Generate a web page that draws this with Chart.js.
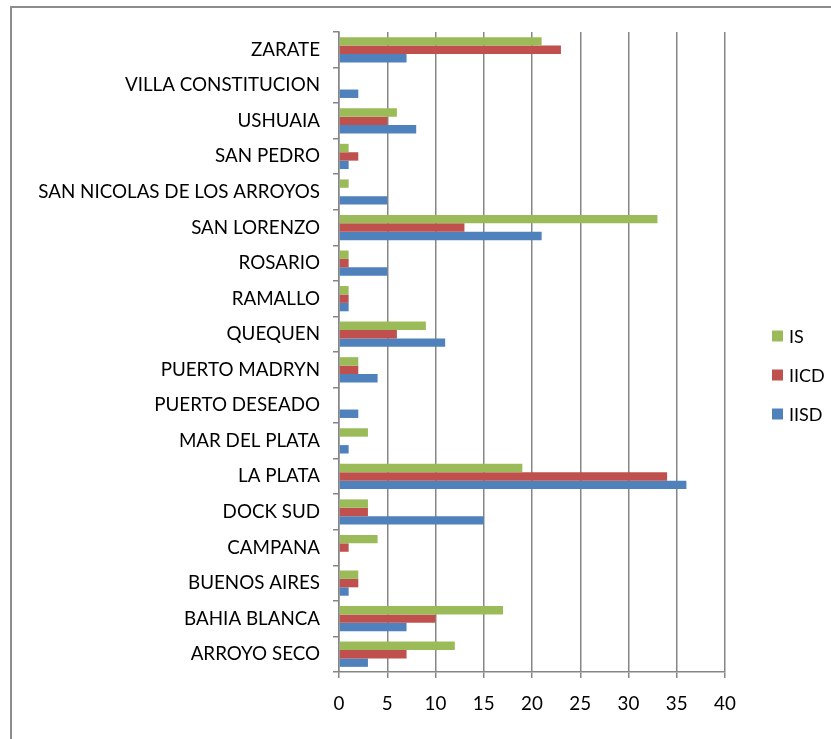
<!DOCTYPE html>
<html>
<head>
<meta charset="utf-8">
<script src="https://cdn.jsdelivr.net/npm/chart.js@4"></script>
<style>
    html, body { margin: 0; padding: 0; background: #ffffff; }
    #wrap { position: relative; width: 831px; height: 739px; overflow: hidden; }
    #marco { position: absolute; left: 10px; top: 6px; width: 840px; height: 760px;
             border-top: 2px solid #8c8c8c; border-left: 2px solid #8c8c8c; }
    #grafica { position: absolute; left: 0; top: 0; }
</style>
</head>
<body>
<div id="wrap">
    <div id="marco"></div>
    <canvas id="grafica" width="831" height="739"></canvas>
</div>
<script>
var puertos = ['ZARATE', 'VILLA CONSTITUCION', 'USHUAIA', 'SAN PEDRO', 'SAN NICOLAS DE LOS ARROYOS',
    'SAN LORENZO', 'ROSARIO', 'RAMALLO', 'QUEQUEN', 'PUERTO MADRYN', 'PUERTO DESEADO',
    'MAR DEL PLATA', 'LA PLATA', 'DOCK SUD', 'CAMPANA', 'BUENOS AIRES', 'BAHIA BLANCA', 'ARROYO SECO'];
var valoresIS   = [21, 0, 6, 1, 1, 33, 1, 1, 9, 2, 0, 3, 19, 3, 4, 2, 17, 12];
var valoresIICD = [23, 0, 5, 2, 0, 13, 1, 1, 6, 2, 0, 0, 34, 3, 1, 2, 10, 7];
var valoresIISD = [7, 2, 8, 1, 5, 21, 5, 1, 11, 4, 2, 1, 36, 15, 0, 1, 7, 3];
var ejeMin = 0, ejeMax = 40, ejePaso = 5;

var fuente = { family: 'Lato, "Open Sans", sans-serif', size: 18.8 };
var gris = '#868686';

// leyenda dibujada a mano a la derecha, como en el original
var leyendaPlugin = {
    id: 'leyendaDerecha',
    afterDraw: function(chart) {
        var ctx = chart.ctx;
        var x = chart.chartArea.right + 47;
        var yMedio = (chart.chartArea.top + chart.chartArea.bottom) / 2 + 23;
        var sep = 39;
        var ds = chart.data.datasets;
        ctx.save();
        ctx.font = '18px ' + fuente.family;
        ctx.textBaseline = 'middle';
        ctx.textAlign = 'left';
        ds.forEach(function(d, i) {
            var y = yMedio + (i - (ds.length - 1) / 2) * sep;
            ctx.fillStyle = d.backgroundColor;
            ctx.fillRect(x, y - 5.5, 11, 11);
            ctx.fillStyle = '#000000';
            ctx.fillText(d.label, x + 17, y + 1);
        });
        ctx.restore();
    }
};

new Chart(document.getElementById('grafica').getContext('2d'), {
    type: 'bar',
    plugins: [leyendaPlugin],
    data: {
        labels: puertos,
        datasets: [
            { label: 'IS', data: valoresIS, backgroundColor: '#9BBB59' },
            { label: 'IICD', data: valoresIICD, backgroundColor: '#C0504D' },
            { label: 'IISD', data: valoresIISD, backgroundColor: '#4F81BD' }
        ]
    },
    options: {
        indexAxis: 'y',
        responsive: false,
        animation: false,
        layout: { padding: { top: 32, right: 106, bottom: 0, left: 0 } },
        datasets: { bar: { categoryPercentage: 0.71, barPercentage: 1.0 } },
        plugins: { legend: { display: false }, tooltip: { enabled: false } },
        scales: {
            x: {
                min: ejeMin, max: ejeMax,
                ticks: { stepSize: ejePaso, color: '#000000', font: fuente, padding: 15 },
                grid: { color: gris, lineWidth: 1.5, tickLength: 6 },
                border: { color: gris, width: 1.5 },
                afterFit: function(s) { s.height = 739 - 672; }
            },
            y: {
                ticks: { color: '#000000', font: fuente, padding: 13, autoSkip: false },
                grid: { drawOnChartArea: false, drawTicks: true, tickLength: 6, color: gris, lineWidth: 1.5, offset: true },
                border: { color: gris, width: 1.5 },
                afterFit: function(s) { s.width = 339; }
            }
        }
    }
});
</script>
</body>
</html>
